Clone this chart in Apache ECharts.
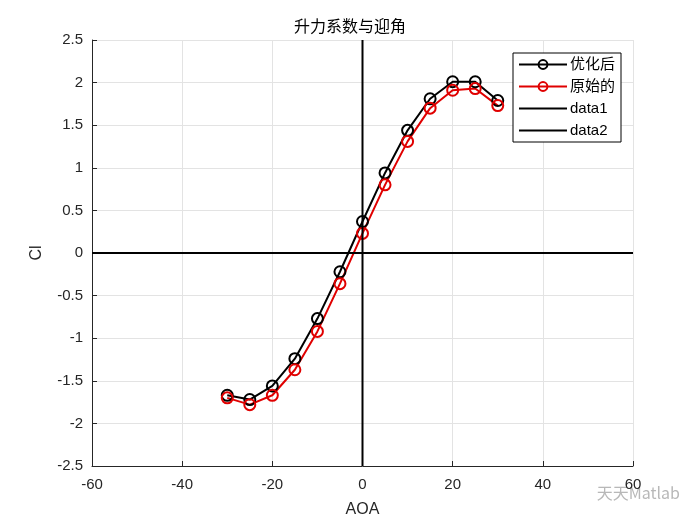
<!DOCTYPE html>
<html>
<head>
<meta charset="utf-8">
<script src="https://cdn.jsdelivr.net/npm/echarts@6/dist/echarts.min.js"></script>
<style>
  html, body { margin: 0; padding: 0; background: #fff; }
  #chart { width: 700px; height: 525px; }
</style>
</head>
<body>
<div id="chart"></div>
<script>
  // angle of attack
  const aoa = [-30, -25, -20, -15, -10, -5, 0, 5, 10, 15, 20, 25, 30]
  // lift coefficient, optimised / original
  const clOpt = [-1.67, -1.72, -1.56, -1.24, -0.77, -0.22, 0.37, 0.94, 1.44, 1.81, 2.01, 2.01, 1.79]
  const clOrig = [-1.70, -1.78, -1.67, -1.37, -0.92, -0.36, 0.23, 0.80, 1.31, 1.70, 1.91, 1.93, 1.73]
  // reference lines through origin
  const data1 = [[0, -2.5], [0, 2.5]]
  const data2 = [[-60, 0], [60, 0]]
  const names = ['优化后', '原始的', 'data1', 'data2']

  const font = 'Liberation Sans, Arial, sans-serif'
  const cjk = 'Noto Sans CJK SC, sans-serif'
  const pair = (xs, ys) => xs.map((x, i) => [x, ys[i]])

  const myChart = echarts.init(document.getElementById('chart'))

  let markerSeries = (name, color, vals) => ({
    name: name,
    type: 'line',
    data: pair(aoa, vals),
    symbol: 'circle',
    symbolSize: 11,
    lineStyle: { color: color, width: 2 },
    itemStyle: { color: 'rgba(255,255,255,0)', borderColor: color, borderWidth: 2 },
    emphasis: { disabled: true },
    z: 3
  })

  let plainSeries = (name, vals) => ({
    name: name,
    type: 'line',
    data: vals,
    symbol: 'none',
    lineStyle: { color: '#000', width: 2 },
    itemStyle: { color: '#000' },
    emphasis: { disabled: true },
    z: 4
  })

  let option = {
    animation: false,
    backgroundColor: '#fff',
    title: {
      text: '升力系数与迎角',
      left: 'center',
      top: 13,
      textStyle: { fontFamily: cjk, fontSize: 16, fontWeight: 'normal', color: '#000' }
    },
    grid: { left: 92, right: 67, top: 40, bottom: 59 },
    legend: {
      orient: 'vertical',
      left: 513,
      top: 53,
      padding: [4, 6, 4, 5],
      itemWidth: 48,
      itemHeight: 11,
      itemGap: 7,
      backgroundColor: '#fff',
      borderColor: '#000',
      borderWidth: 1,
      borderRadius: 0,
      data: [
        { name: names[0] },
        { name: names[1] },
        { name: names[2], itemStyle: { color: 'rgba(0,0,0,0)', borderWidth: 0 } },
        { name: names[3], itemStyle: { color: 'rgba(0,0,0,0)', borderWidth: 0 } }
      ],
      textStyle: {
        fontSize: 15,
        color: '#000',
        padding: [0, 0, 0, -2],
        fontFamily: 'Liberation Sans, Noto Sans CJK SC, sans-serif'
      }
    },
    xAxis: {
      type: 'value',
      min: -60,
      max: 60,
      interval: 20,
      name: 'AOA',
      nameLocation: 'middle',
      nameGap: 36,
      nameTextStyle: { fontFamily: font, fontSize: 16, color: '#262626' },
      axisLine: { onZero: false, lineStyle: { color: '#262626', width: 1 } },
      axisTick: { inside: true, length: 5, lineStyle: { color: '#262626' } },
      axisLabel: { fontFamily: font, fontSize: 15, color: '#262626', margin: 11 },
      splitLine: { show: true, lineStyle: { color: '#e3e3e3', width: 1 } }
    },
    yAxis: {
      type: 'value',
      min: -2.5,
      max: 2.5,
      interval: 0.5,
      name: 'Cl',
      nameLocation: 'middle',
      nameGap: 47,
      nameTextStyle: { fontFamily: font, fontSize: 16, color: '#262626' },
      axisLine: { show: true, onZero: false, lineStyle: { color: '#262626', width: 1 } },
      axisTick: { show: true, inside: true, length: 5, lineStyle: { color: '#262626' } },
      axisLabel: { fontFamily: font, fontSize: 15, color: '#262626', margin: 9 },
      splitLine: { show: true, lineStyle: { color: '#e3e3e3', width: 1 } }
    },
    graphic: [{
      type: 'text',
      right: 20,
      top: 485,
      style: { text: '天天Matlab', fontFamily: cjk, fontSize: 16, fill: '#b8b8b8' }
    }],
    series: [
      markerSeries(names[0], '#000', clOpt),
      markerSeries(names[1], '#e00000', clOrig),
      plainSeries(names[2], data1),
      plainSeries(names[3], data2)
    ]
  }

  myChart.setOption(option)
</script>
</body>
</html>
